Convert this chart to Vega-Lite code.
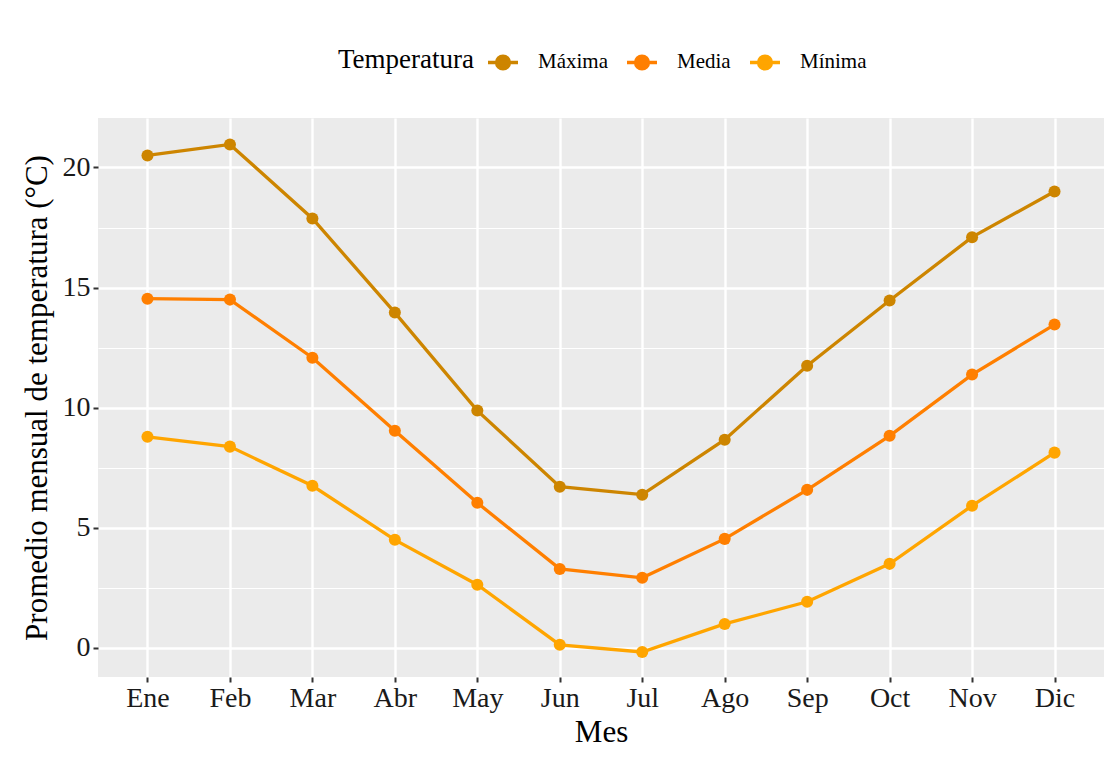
{
  "$schema": "https://vega.github.io/schema/vega-lite/v6.json",
  "width": 1006,
  "height": 559,
  "autosize": {"type": "none"},
  "padding": {"left": 98, "top": 118, "right": 0, "bottom": 80},
  "background": "white",
  "config": {
    "view": {"fill": "#EBEBEB", "stroke": null},
    "font": "Liberation Serif"
  },
  "data": {
    "values": [
      {"Mes": "Ene", "Temperatura": "Máxima", "Valor": 20.5},
      {"Mes": "Feb", "Temperatura": "Máxima", "Valor": 20.96},
      {"Mes": "Mar", "Temperatura": "Máxima", "Valor": 17.88},
      {"Mes": "Abr", "Temperatura": "Máxima", "Valor": 13.96},
      {"Mes": "May", "Temperatura": "Máxima", "Valor": 9.88},
      {"Mes": "Jun", "Temperatura": "Máxima", "Valor": 6.71},
      {"Mes": "Jul", "Temperatura": "Máxima", "Valor": 6.38},
      {"Mes": "Ago", "Temperatura": "Máxima", "Valor": 8.67},
      {"Mes": "Sep", "Temperatura": "Máxima", "Valor": 11.75},
      {"Mes": "Oct", "Temperatura": "Máxima", "Valor": 14.46},
      {"Mes": "Nov", "Temperatura": "Máxima", "Valor": 17.1},
      {"Mes": "Dic", "Temperatura": "Máxima", "Valor": 19.0},
      {"Mes": "Ene", "Temperatura": "Media", "Valor": 14.54},
      {"Mes": "Feb", "Temperatura": "Media", "Valor": 14.5},
      {"Mes": "Mar", "Temperatura": "Media", "Valor": 12.08},
      {"Mes": "Abr", "Temperatura": "Media", "Valor": 9.04},
      {"Mes": "May", "Temperatura": "Media", "Valor": 6.04},
      {"Mes": "Jun", "Temperatura": "Media", "Valor": 3.29},
      {"Mes": "Jul", "Temperatura": "Media", "Valor": 2.92},
      {"Mes": "Ago", "Temperatura": "Media", "Valor": 4.54},
      {"Mes": "Sep", "Temperatura": "Media", "Valor": 6.58},
      {"Mes": "Oct", "Temperatura": "Media", "Valor": 8.83},
      {"Mes": "Nov", "Temperatura": "Media", "Valor": 11.38},
      {"Mes": "Dic", "Temperatura": "Media", "Valor": 13.46},
      {"Mes": "Ene", "Temperatura": "Mínima", "Valor": 8.79},
      {"Mes": "Feb", "Temperatura": "Mínima", "Valor": 8.38},
      {"Mes": "Mar", "Temperatura": "Mínima", "Valor": 6.75},
      {"Mes": "Abr", "Temperatura": "Mínima", "Valor": 4.5},
      {"Mes": "May", "Temperatura": "Mínima", "Valor": 2.63},
      {"Mes": "Jun", "Temperatura": "Mínima", "Valor": 0.13},
      {"Mes": "Jul", "Temperatura": "Mínima", "Valor": -0.17},
      {"Mes": "Ago", "Temperatura": "Mínima", "Valor": 1.0},
      {"Mes": "Sep", "Temperatura": "Mínima", "Valor": 1.92},
      {"Mes": "Oct", "Temperatura": "Mínima", "Valor": 3.5},
      {"Mes": "Nov", "Temperatura": "Mínima", "Valor": 5.92},
      {"Mes": "Dic", "Temperatura": "Mínima", "Valor": 8.13}
    ]
  },
  "encoding": {
    "x": {
      "field": "Mes",
      "type": "ordinal",
      "sort": ["Ene", "Feb", "Mar", "Abr", "May", "Jun", "Jul", "Ago", "Sep", "Oct", "Nov", "Dic"],
      "scale": {"type": "point", "padding": 0.6},
      "axis": {
        "title": "Mes",
        "titleFontSize": 31,
        "titleFontWeight": "normal",
        "titleColor": "black",
        "titlePadding": 5,
        "labelFontSize": 28,
        "labelColor": "#1A1A1A",
        "labelAngle": 0,
        "labelPadding": 2,
        "tickColor": "#333333",
        "tickSize": 5,
        "tickWidth": 2,
        "domain": false,
        "grid": true,
        "gridColor": "white",
        "gridWidth": 2.4
      }
    },
    "y": {
      "field": "Valor",
      "type": "quantitative",
      "scale": {"domain": [-1.21, 22.06], "nice": false, "zero": false}
    },
    "color": {
      "field": "Temperatura",
      "type": "nominal",
      "scale": {"domain": ["Máxima", "Media", "Mínima"], "range": ["#CD8500", "#FF7F00", "#FFA500"]},
      "legend": {
        "title": "Temperatura",
        "orient": "none",
        "legendX": 240,
        "legendY": -73,
        "direction": "horizontal",
        "titleOrient": "left",
        "titleFontSize": 27,
        "titleFontWeight": "normal",
        "titleColor": "black",
        "titlePadding": 11,
        "labelFontSize": 21,
        "labelColor": "black",
        "labelOffset": 18,
        "columnPadding": 12,
        "symbolType": "M-1,0H1M-0.43,0A0.43,0.43 0 1,1 0.43,0A0.43,0.43 0 1,1 -0.43,0Z",
        "symbolSize": 900,
        "symbolStrokeWidth": 3.3,
        "symbolOpacity": 1,
        "encode": {
          "symbols": {
            "update": {
              "fill": {"scale": "color", "field": "value"},
              "stroke": {"scale": "color", "field": "value"}
            }
          }
        }
      }
    }
  },
  "layer": [
    {
      "mark": {"type": "line", "strokeWidth": 3.3},
      "encoding": {
        "y": {
          "field": "Valor",
          "type": "quantitative",
          "axis": {
            "title": "Promedio mensual de temperatura (°C)",
            "titleFontSize": 31,
            "titleFontWeight": "normal",
            "titleColor": "black",
            "titlePadding": 9,
            "values": [0, 5, 10, 15, 20],
            "labelFontSize": 28,
            "labelColor": "#1A1A1A",
            "labelPadding": 3,
            "tickColor": "#333333",
            "tickSize": 5,
            "tickWidth": 2,
            "domain": false,
            "grid": true,
            "gridColor": "white",
            "gridWidth": 2.4
          }
        }
      }
    },
    {
      "mark": {"type": "point", "filled": true, "size": 145, "opacity": 1},
      "encoding": {
        "y": {
          "field": "Valor",
          "type": "quantitative",
          "axis": {
            "title": null,
            "orient": "left",
            "values": [2.5, 7.5, 12.5, 17.5],
            "labels": false,
            "ticks": false,
            "domain": false,
            "grid": true,
            "gridColor": "white",
            "gridWidth": 1.2
          }
        }
      }
    }
  ],
  "resolve": {"axis": {"y": "independent"}}
}
